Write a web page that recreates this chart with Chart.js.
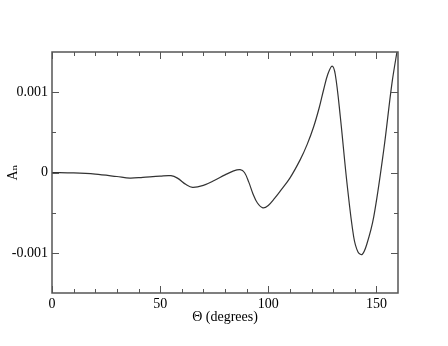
<!DOCTYPE html>
<html>
<head>
<meta charset="utf-8">
<script src="https://cdn.jsdelivr.net/npm/chart.js@4"></script>
<style>
  html, body { margin: 0; padding: 0; background: #fff; }
  #wrap { width: 448px; height: 346px; }
</style>
</head>
<body>
<div id="wrap"><canvas id="chart" width="448" height="346"></canvas></div>
<script>
// data
const theta = [0, 10, 20, 30, 36, 42, 50, 55, 58, 62, 65, 70, 75, 80, 84, 87, 89, 91, 93, 95, 97.5, 100, 103, 105.6, 110, 114.8, 118, 121, 123.5, 125.6, 127.5, 129.5, 131, 133.3, 136.4, 139.5, 141.5, 143.4, 145.5, 148.8, 153.4, 157.2, 160];
const An = [0, -0.000005, -0.00002, -0.00005, -0.00007, -0.00006, -0.000045, -0.00004, -0.00007, -0.00015, -0.000185, -0.00016, -0.0001, -0.00003, 0.00002, 0.000035, 0.0, -0.00012, -0.00027, -0.00038, -0.00044, -0.00041, -0.00032, -0.00023, -0.00007, 0.00016, 0.00035, 0.00057, 0.0008, 0.00103, 0.00122, 0.001325, 0.00122, 0.0007, -0.00013, -0.0008, -0.00099, -0.00102, -0.0009, -0.00055, 0.00028, 0.00111, 0.00158];

const xMajor = [0, 50, 100, 150];
const xMinor = [10, 20, 30, 40, 60, 70, 80, 90, 110, 120, 130, 140];
const yMajor = [-0.001, 0, 0.001];
const yLabels = ['-0.001', '0', '0.001'];
const yMinor = [-0.0005, 0.0005];

const serif = "'Liberation Serif', 'DejaVu Serif', serif";
const frameColor = '#555';

// inward ticks + box frame
const framePlugin = {
  id: 'frame',
  afterDraw(chart){
    const {ctx, chartArea: a, scales} = chart;
    const xs = scales.x, ys = scales.y;
    ctx.save();
    ctx.strokeStyle = frameColor;
    ctx.lineWidth = 1.5;
    ctx.strokeRect(a.left, a.top, a.right - a.left, a.bottom - a.top);
    ctx.lineWidth = 1;
    ctx.beginPath();
    const xt = (v, len) => {
      const px = Math.round(xs.getPixelForValue(v)) + 0.5;
      ctx.moveTo(px, a.bottom); ctx.lineTo(px, a.bottom - len);
      ctx.moveTo(px, a.top); ctx.lineTo(px, a.top + len);
    };
    const yt = (v, len) => {
      const py = Math.round(ys.getPixelForValue(v)) + 0.5;
      ctx.moveTo(a.left, py); ctx.lineTo(a.left + len, py);
      ctx.moveTo(a.right, py); ctx.lineTo(a.right - len, py);
    };
    xMajor.forEach(v => xt(v, 7));
    xMinor.forEach(v => xt(v, 4));
    yMajor.forEach(v => yt(v, 7));
    yMinor.forEach(v => yt(v, 4));
    ctx.stroke();
    ctx.restore();
  }
};

new Chart(document.getElementById('chart').getContext('2d'), {
  type: 'line',
  data: {
    datasets: [{
      data: theta.map((t, i) => ({x: t, y: An[i]})),
      borderColor: '#333',
      borderWidth: 1.2,
      pointRadius: 0,
      fill: false,
      tension: 0.35
    }]
  },
  options: {
    responsive: false,
    animation: false,
    layout: { padding: { left: 0, top: 52, right: 50, bottom: 0 } },
    plugins: { legend: { display: false }, tooltip: { enabled: false } },
    scales: {
      x: {
        type: 'linear', min: 0, max: 160,
        grid: { display: false, drawTicks: false },
        border: { display: false },
        afterBuildTicks: s => { s.ticks = xMajor.map(v => ({value: v})); },
        afterFit: s => { s.height = 53; },
        ticks: { color: '#000', padding: 3, font: { family: serif, size: 14 } },
        title: { display: true, text: 'Θ (degrees)', color: '#000', font: { family: serif, size: 14 }, padding: { top: 0, bottom: 20 } }
      },
      y: {
        type: 'linear', min: -0.0015, max: 0.0015,
        grid: { display: false, drawTicks: false },
        border: { display: false },
        afterBuildTicks: s => { s.ticks = yMajor.map(v => ({value: v})); },
        afterFit: s => { s.width = 52; },
        ticks: { color: '#000', padding: 4, font: { family: serif, size: 14 },
          callback: (v, i) => yLabels[i] },
        title: { display: true, text: 'Aₙ', color: '#000', font: { family: serif, size: 14 }, padding: { top: 5, bottom: 0 } }
      }
    }
  },
  plugins: [framePlugin]
});
</script>
</body>
</html>
